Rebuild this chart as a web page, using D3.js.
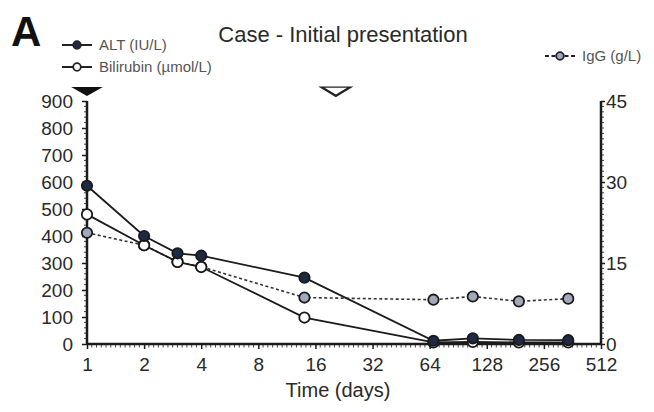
<!DOCTYPE html>
<html>
<head>
<meta charset="utf-8">
<script src="https://cdn.jsdelivr.net/npm/d3@7"></script>
<style>
  html, body { margin: 0; padding: 0; background: #fff; }
  svg { display: block; font-family: "Liberation Sans", Arial, sans-serif; }
</style>
</head>
<body>
<svg id="chart" width="654" height="412"></svg>
<script>
// Time points (days) and lab values
const days      = [1, 2, 3, 4, 14, 67, 108, 189, 344];
const altValues = [586, 400, 336, 327, 246, 12, 21, 15, 14];
const biliValues = [480, 366, 304, 285, 98, 6, 8, 6, 6];
const iggValues = [20.6, 18.3, 15.2, 14.3, 8.6, 8.2, 8.8, 7.9, 8.4];

const xTicks = [1, 2, 4, 8, 16, 32, 64, 128, 256, 512];
const leftTicks = [0, 100, 200, 300, 400, 500, 600, 700, 800, 900];
const rightTicks = [0, 15, 30, 45];

// Treatment markers along the top (day)
const filledMarkerDay = 1;
const openMarkerDay = 20;

const svg = d3.select("#chart");

const x = d3.scaleLog().base(2).domain([1, 512]).range([87, 601]);
const yL = d3.scaleLinear().domain([0, 900]).range([344, 101]);
const yR = d3.scaleLinear().domain([0, 45]).range([344, 101]);

const ink = "#1b1b1b";
const textInk = "#2a2a2a";

// Minor ticks
const xMinor = [];
for (let e = 0; e < 9; e++) for (let k = 1; k < 12; k++) xMinor.push(Math.pow(2, e + k / 12));
svg.append("g").selectAll("line").data(xMinor).join("line")
  .attr("x1", d => x(d)).attr("x2", d => x(d))
  .attr("y1", 344).attr("y2", 347.5)
  .attr("stroke", "#444").attr("stroke-width", 1);

const lMinor = d3.range(0, 901, 20).filter(v => v % 100 !== 0);
svg.append("g").selectAll("line").data(lMinor).join("line")
  .attr("x1", 84).attr("x2", 87).attr("y1", d => yL(d)).attr("y2", d => yL(d))
  .attr("stroke", "#444").attr("stroke-width", 1);

const rMinor = d3.range(0, 46, 1).filter(v => v % 15 !== 0);
svg.append("g").selectAll("line").data(rMinor).join("line")
  .attr("x1", 601).attr("x2", 604).attr("y1", d => yR(d)).attr("y2", d => yR(d))
  .attr("stroke", "#444").attr("stroke-width", 1);

// Axes
const xAxis = d3.axisBottom(x).tickValues(xTicks).tickFormat(d3.format("d")).tickSize(5).tickPadding(9);
const gx = svg.append("g").attr("transform", "translate(0,344)").call(xAxis);

const gl = svg.append("g").attr("transform", "translate(87,0)")
  .call(d3.axisLeft(yL).tickValues(leftTicks).tickSize(5).tickPadding(9));

const gr = svg.append("g").attr("transform", "translate(601,0)")
  .call(d3.axisRight(yR).tickValues(rightTicks).tickSize(4).tickPadding(1));

[gx, gl, gr].forEach(g => {
  g.select(".domain").attr("stroke", ink).attr("stroke-width", 2.5);
  g.selectAll(".tick line").attr("stroke", ink).attr("stroke-width", 1.5);
  g.selectAll(".tick text").attr("fill", textInk).attr("font-size", 19)
    .attr("font-family", "Liberation Sans, Arial, sans-serif");
});
gl.select(".domain").attr("d", "M0,344V101");
gr.select(".domain").attr("d", "M0,344V101");
gx.select(".domain").attr("d", "M87,0H601");

// Series lines
const line = (yScale, vals) => d3.line()
  .x((d, i) => x(days[i]))
  .y((d, i) => yScale(vals[i]))(vals);

svg.append("path").attr("d", line(yR, iggValues))
  .attr("fill", "none").attr("stroke", "#333").attr("stroke-width", 1.6)
  .attr("stroke-dasharray", "3,2.5");
svg.append("path").attr("d", line(yL, biliValues))
  .attr("fill", "none").attr("stroke", ink).attr("stroke-width", 1.8);
svg.append("path").attr("d", line(yL, altValues))
  .attr("fill", "none").attr("stroke", ink).attr("stroke-width", 1.8);

// Series points
function dots(yScale, vals, fill) {
  svg.append("g").selectAll("circle").data(vals).join("circle")
    .attr("cx", (d, i) => x(days[i])).attr("cy", d => yScale(d))
    .attr("r", 5.2).attr("fill", fill).attr("stroke", "#1a1a1a").attr("stroke-width", 1.8);
}
dots(yR, iggValues, "#a2a9ba");
dots(yL, biliValues, "#ffffff");
dots(yL, altValues, "#1c2a45");

// Treatment markers
const tri = d3.symbol().type(d3.symbolTriangle).size(150);
svg.append("path").attr("d", tri())
  .attr("transform", `translate(${x(filledMarkerDay)},90) scale(1.7,0.55) rotate(180)`)
  .attr("fill", "#111");
svg.append("path").attr("d", tri())
  .attr("transform", `translate(${x(openMarkerDay) + 2},90) scale(1.55,0.55) rotate(180)`)
  .attr("fill", "#fff").attr("stroke", "#222").attr("stroke-width", 2.4);

// Panel letter and title
svg.append("text").attr("x", 11).attr("y", 46).text("A")
  .attr("font-size", 42).attr("font-weight", "bold").attr("fill", "#111");
svg.append("text").attr("x", 343).attr("y", 42).attr("text-anchor", "middle")
  .text("Case - Initial presentation").attr("font-size", 22).attr("fill", textInk);

// Axis title
svg.append("text").attr("x", 338).attr("y", 397).attr("text-anchor", "middle")
  .text("Time (days)").attr("font-size", 20).attr("fill", textInk);

// Legend
function legendItem(x0, y0, fill, dashed, label) {
  const g = svg.append("g");
  g.append("line").attr("x1", x0).attr("x2", x0 + 30).attr("y1", y0).attr("y2", y0)
    .attr("stroke", "#222").attr("stroke-width", 2)
    .attr("stroke-dasharray", dashed ? "4,2.5" : null);
  g.append("circle").attr("cx", x0 + 15).attr("cy", y0).attr("r", 3.8)
    .attr("fill", fill).attr("stroke", "#222").attr("stroke-width", 1.8);
  g.append("text").attr("x", x0 + 37).attr("y", y0 + 5).text(label)
    .attr("font-size", 15).attr("fill", "#555");
}
legendItem(62, 45, "#1c2a45", false, "ALT (IU/L)");
legendItem(62, 67, "#ffffff", false, "Bilirubin (\u00b5mol/L)");
legendItem(545, 56, "#a2a9ba", true, "IgG (g/L)");
</script>
</body>
</html>
